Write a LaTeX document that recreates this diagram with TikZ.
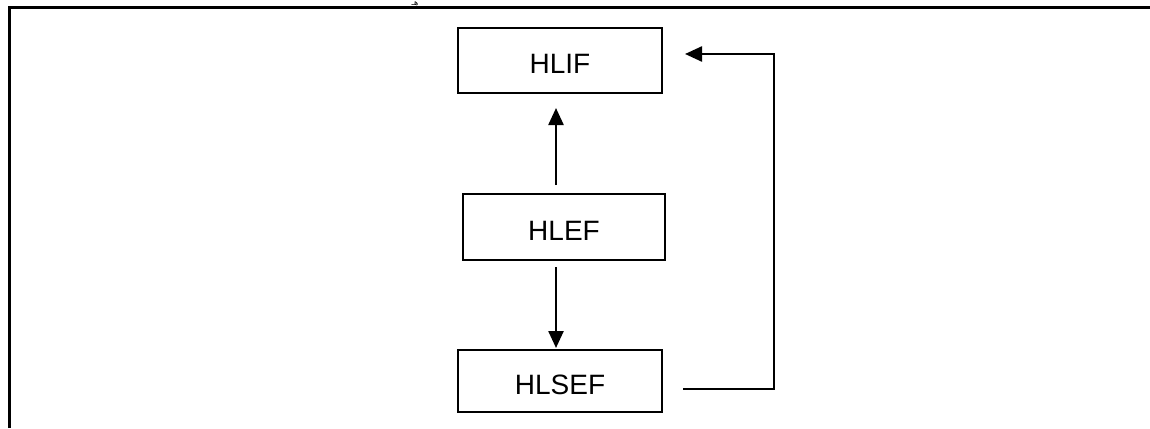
\documentclass[tikz,border=0pt]{standalone}
\usepackage{fontspec}
\setmainfont{Liberation Sans}
\newfontfamily\arabicfont[Script=Arabic]{DejaVu Sans}
\TeXXeTstate=1
\usetikzlibrary{arrows.meta}
\begin{document}
\begin{tikzpicture}[x=1pt,y=-1pt,
  box/.style={draw,line width=2pt,inner sep=0pt,text height=27pt,text depth=0pt,font=\fontsize{28}{30}\selectfont},
  arr/.style={line width=2.4pt,-{Triangle[length=17pt,width=15pt]}},
  ln/.style={line width=2.4pt}]
\useasboundingbox (0,0) rectangle (1150,428);
\draw[line width=3pt] (9,428) -- (9,7.5) -- (1150,7.5);
\node[font=\arabicfont\fontsize{8}{9}\selectfont] (hdr) at (415,3.2) {\beginR هـ\endR};
\node[box,minimum width=204pt,minimum height=65pt] (hlif) at (560,60.5) {HLIF};
\node[box,minimum width=202pt,minimum height=66pt] (hlef) at (564,227) {HLEF};
\node[box,minimum width=204pt,minimum height=62pt] (hlsef) at (560,381) {HLSEF};
\coordinate (u1) at (556,185);
\coordinate (u2) at (556,108);
\coordinate (d1) at (556,267);
\coordinate (d2) at (556,348);
\coordinate (r1) at (683,389);
\coordinate (r2) at (774,389);
\coordinate (r3) at (774,54);
\coordinate (r4) at (685,54);
\draw[arr] (u1) -- (u2);
\draw[arr] (d1) -- (d2);
\draw[ln] (r1) -- (r2) -- (r3);
\draw[arr,line cap=rect] (r3) -- (r4);
\end{tikzpicture}
\end{document}
